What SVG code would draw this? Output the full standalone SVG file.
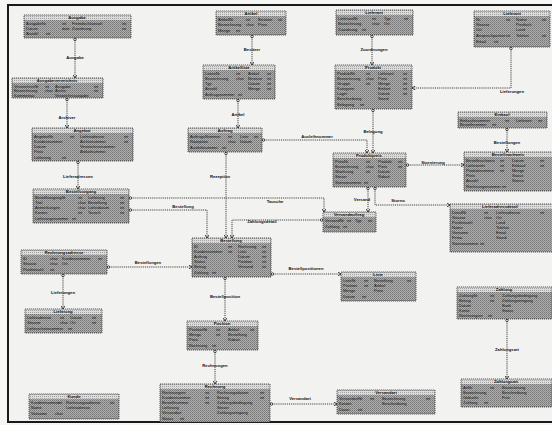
<svg xmlns="http://www.w3.org/2000/svg" width="552" height="425" viewBox="0 0 552 425">
<defs>
<pattern id="ht" width="2" height="2" patternUnits="userSpaceOnUse"><rect width="2" height="2" fill="#b0b0b0"/><rect width="1" height="1" fill="#747474"/><rect x="1" y="1" width="1" height="1" fill="#868686"/></pattern>
<pattern id="hl" width="2" height="2" patternUnits="userSpaceOnUse"><rect width="2" height="2" fill="#dcdcdc"/><rect width="1" height="1" fill="#a4a4a4"/></pattern>
<marker id="ah" markerWidth="4" markerHeight="4" refX="3.5" refY="2" orient="auto" markerUnits="userSpaceOnUse"><path d="M0,0 L4,2 L0,4" fill="none" stroke="#222" stroke-width="0.8"/></marker>
<marker id="ci" markerWidth="4" markerHeight="4" refX="0.5" refY="2" orient="auto" markerUnits="userSpaceOnUse"><circle cx="2" cy="2" r="1.3" fill="none" stroke="#222" stroke-width="0.7"/></marker>
</defs>
<style>
.bx{fill:url(#ht);stroke:#333;stroke-width:0.8;stroke-dasharray:1.2 0.8}
.tb{fill:url(#hl)}
.tt{font-family:"Liberation Sans",Arial,sans-serif;font-size:4.2px;font-weight:bold;fill:#111;text-anchor:middle}
.r{font-family:"Liberation Sans",Arial,sans-serif;font-size:4px;fill:#111}
.c{fill:none;stroke:#222;stroke-width:0.9;stroke-dasharray:1 0.9;marker-end:url(#ah);marker-start:url(#ci)}
.lb{font-family:"Liberation Sans",Arial,sans-serif;font-size:4.2px;font-weight:bold;fill:#111;text-anchor:middle}
</style>
<rect width="552" height="425" fill="#f6f6f4"/>
<rect x="8" y="5" width="560" height="417" fill="#f2f2f0" stroke="#1a1a1a" stroke-width="2"/>

<g id="connectors">
<path class="c" d="M75,38 V78"/><text class="lb" x="75" y="59">Ausgabe</text>
<path class="c" d="M67,98 V128"/><text class="lb" x="67" y="119">Archiver</text>
<path class="c" d="M78,161 V189"/><text class="lb" x="78" y="178">Lieferadressen</text>
<path class="c" d="M129,198 H324 V212"/><text class="lb" x="275" y="203">Tausche</text>
<path class="c" d="M129,210 H207 V238"/><text class="lb" x="183" y="208">Bestellung</text>
<path class="c" d="M107,267 H192"/><text class="lb" x="148" y="264">Bestellungen</text>
<path class="c" d="M63,274 V309"/><text class="lb" x="63" y="294">Lieferungen</text>
<path class="c" d="M252,35 V65"/><text class="lb" x="252" y="51">Besitzer</text>
<path class="c" d="M238,99 V128"/><text class="lb" x="238" y="116">Artikel</text>
<path class="c" d="M226,152 V238"/><text class="lb" x="220" y="178">Rezeption</text>
<path class="c" d="M262,140 H367 V153"/><text class="lb" x="317" y="138">Ausleihnummer</text>
<path class="c" d="M372,35 V65"/><text class="lb" x="374" y="51">Zuordnungen</text>
<path class="c" d="M511,47 V88 H412"/><text class="lb" x="512" y="93">Lieferungen</text>
<path class="c" d="M373,109 V153"/><text class="lb" x="373" y="133">Belegung</text>
<path class="c" d="M507,128 V152"/><text class="lb" x="507" y="144">Bestellungen</text>
<path class="c" d="M406,165 H464"/><text class="lb" x="433" y="164">Stornierung</text>
<path class="c" d="M368,187 V212"/><text class="lb" x="362" y="201">Versand</text>
<path class="c" d="M375,187 V205 H450"/><text class="lb" x="398" y="202">Storno</text>
<path class="c" d="M323,220 H232 V238"/><text class="lb" x="262" y="223">Zahlungsdetail</text>
<path class="c" d="M271,274 H341"/><text class="lb" x="306" y="270">Bestellpositionen</text>
<path class="c" d="M225,277 V321"/><text class="lb" x="225" y="298">Bestellposition</text>
<path class="c" d="M215,350 V384"/><text class="lb" x="215" y="367">Rechnungen</text>
<path class="c" d="M270,404 H337"/><text class="lb" x="300" y="400">Versandart</text>
<path class="c" d="M507,319 V379"/><text class="lb" x="507" y="351">Zahlungsart</text>
</g>

<g id="ausgabe">
<rect class="bx" x="24" y="15" width="107" height="23"/><rect class="tb" x="24.5" y="15.5" width="106" height="4.5"/>
<text class="tt" x="77" y="19.2">Ausgabe</text>
<text class="r" x="26" y="25">AusgabeNr</text><text class="r" x="62" y="25">int</text><text class="r" x="72" y="25">Fremdschluessel</text><text class="r" x="122" y="25">int</text>
<text class="r" x="26" y="30">Datum</text><text class="r" x="62" y="30">date</text><text class="r" x="72" y="30">Zuordnung</text><text class="r" x="122" y="30">int</text>
<text class="r" x="26" y="35">Anzahl</text><text class="r" x="46" y="35">int</text>
</g>
<g id="ausgabeverzeichnis">
<rect class="bx" x="12" y="78" width="91" height="20"/><rect class="tb" x="12.5" y="78.5" width="90" height="4.5"/>
<text class="tt" x="57" y="82.2">Ausgabeverzeichnis</text>
<text class="r" x="14" y="87.5">VerzeichnisNr</text><text class="r" x="45" y="87.5">int</text><text class="r" x="55" y="87.5">Ausgabe</text><text class="r" x="94" y="87.5">int</text>
<text class="r" x="14" y="92">Bezeichnung</text><text class="r" x="45" y="92">char</text><text class="r" x="55" y="92">Archiv</text><text class="r" x="94" y="92">int</text>
<text class="r" x="14" y="96.5">Kommentar</text><text class="r" x="55" y="96.5">Verzeichnisangabe</text>
</g>
<g id="angebot">
<rect class="bx" x="32" y="128" width="101" height="33"/><rect class="tb" x="32.5" y="128.5" width="100" height="4.5"/>
<text class="tt" x="82" y="132.2">Angebot</text>
<text class="r" x="34" y="138">AngebotNr</text><text class="r" x="70" y="138">int</text><text class="r" x="80" y="138">Lieferadresse</text><text class="r" x="124" y="138">int</text>
<text class="r" x="34" y="143">Kundennummer</text><text class="r" x="80" y="143">Archivnummer</text><text class="r" x="124" y="143">int</text>
<text class="r" x="34" y="148">Datum</text><text class="r" x="80" y="148">Verzeichnisnummer</text>
<text class="r" x="34" y="153">Preis</text><text class="r" x="80" y="153">Artikelnummer</text>
<text class="r" x="34" y="159">Lieferung</text><text class="r" x="62" y="159">int</text>
</g>
<g id="bestellvorgang">
<rect class="bx" x="33" y="189" width="96" height="34"/><rect class="tb" x="33.5" y="189.5" width="95" height="4.5"/>
<text class="tt" x="81" y="193.2">Bestellvorgang</text>
<text class="r" x="35" y="199">BestellvorgangNr</text><text class="r" x="78" y="199">int</text><text class="r" x="88" y="199">Lieferung</text><text class="r" x="120" y="199">int</text>
<text class="r" x="35" y="204">Titel</text><text class="r" x="78" y="204">char</text><text class="r" x="88" y="204">Bestellung</text><text class="r" x="120" y="204">int</text>
<text class="r" x="35" y="209">Anmerkungen</text><text class="r" x="78" y="209">char</text><text class="r" x="88" y="209">Lieferdatum</text><text class="r" x="120" y="209">int</text>
<text class="r" x="35" y="214">Kosten</text><text class="r" x="78" y="214">int</text><text class="r" x="88" y="214">Tausch</text><text class="r" x="120" y="214">int</text>
<text class="r" x="35" y="220">Lieferungsnummer</text><text class="r" x="72" y="220">int</text>
</g>
<g id="rechnungsadresse">
<rect class="bx" x="21" y="250" width="86" height="24"/><rect class="tb" x="21.5" y="250.5" width="85" height="4.5"/>
<text class="tt" x="64" y="254.2">Rechnungsadresse</text>
<text class="r" x="23" y="260">ID</text><text class="r" x="50" y="260">char</text><text class="r" x="62" y="260">Kundennummer</text><text class="r" x="98" y="260">int</text>
<text class="r" x="23" y="265">Strasse</text><text class="r" x="50" y="265">char</text><text class="r" x="62" y="265">Ort</text>
<text class="r" x="23" y="271">Postleitzahl</text><text class="r" x="50" y="271">int</text>
</g>
<g id="lieferung">
<rect class="bx" x="25" y="309" width="77" height="24"/><rect class="tb" x="25.5" y="309.5" width="76" height="4.5"/>
<text class="tt" x="63" y="313.2">Lieferung</text>
<text class="r" x="27" y="319">Lieferadresse</text><text class="r" x="60" y="319">int</text><text class="r" x="70" y="319">Datum</text><text class="r" x="92" y="319">int</text>
<text class="r" x="27" y="324">Strasse</text><text class="r" x="60" y="324">char</text><text class="r" x="70" y="324">Ort</text><text class="r" x="92" y="324">int</text>
<text class="r" x="27" y="330">Lieferscheinnummer</text><text class="r" x="68" y="330">int</text>
</g>
<g id="kunde">
<rect class="bx" x="29" y="394" width="90" height="25"/><rect class="tb" x="29.5" y="394.5" width="89" height="4.5"/>
<text class="tt" x="74" y="398.2">Kunde</text>
<text class="r" x="31" y="404">Kundennummer</text><text class="r" x="58" y="404">int</text><text class="r" x="66" y="404">Rechnungsadresse</text><text class="r" x="110" y="404">int</text>
<text class="r" x="31" y="409">Name</text><text class="r" x="66" y="409">Lieferadresse</text>
<text class="r" x="31" y="415">Vorname</text><text class="r" x="55" y="415">char</text>
</g>
<g id="artikel">
<rect class="bx" x="216" y="11" width="70" height="24"/><rect class="tb" x="216.5" y="11.5" width="69" height="4.5"/>
<text class="tt" x="251" y="15.2">Artikel</text>
<text class="r" x="218" y="21">ArtikelNr</text><text class="r" x="246" y="21">int</text><text class="r" x="258" y="21">Besitzer</text><text class="r" x="278" y="21">int</text>
<text class="r" x="218" y="26">Bezeichnung</text><text class="r" x="246" y="26">char</text><text class="r" x="258" y="26">Preis</text>
<text class="r" x="218" y="32">Menge</text><text class="r" x="236" y="32">int</text>
</g>
<g id="artikelliste">
<rect class="bx" x="203" y="65" width="72" height="34"/><rect class="tb" x="203.5" y="65.5" width="71" height="4.5"/>
<text class="tt" x="239" y="69.2">Artikelliste</text>
<text class="r" x="205" y="75">ListenNr</text><text class="r" x="236" y="75">int</text><text class="r" x="248" y="75">Artikel</text><text class="r" x="267" y="75">int</text>
<text class="r" x="205" y="80">Bezeichnung</text><text class="r" x="236" y="80">char</text><text class="r" x="248" y="80">Besitzer</text><text class="r" x="267" y="80">int</text>
<text class="r" x="205" y="85">Typ</text><text class="r" x="248" y="85">Datum</text><text class="r" x="267" y="85">int</text>
<text class="r" x="205" y="90">Anzahl</text><text class="r" x="248" y="90">Menge</text><text class="r" x="267" y="90">int</text>
<text class="r" x="205" y="96">Auftragsnummer</text><text class="r" x="238" y="96">int</text>
</g>
<g id="auftrag">
<rect class="bx" x="188" y="128" width="74" height="24"/><rect class="tb" x="188.5" y="128.5" width="73" height="4.5"/>
<text class="tt" x="225" y="132.2">Auftrag</text>
<text class="r" x="190" y="138">AuftragsNummer</text><text class="r" x="228" y="138">int</text><text class="r" x="240" y="138">Liste</text><text class="r" x="254" y="138">int</text>
<text class="r" x="190" y="143">Rezeption</text><text class="r" x="228" y="143">char</text><text class="r" x="240" y="143">Datum</text>
<text class="r" x="190" y="149">Ausleihnummer</text><text class="r" x="222" y="149">int</text>
</g>
<g id="lieferant">
<rect class="bx" x="336" y="10" width="77" height="25"/><rect class="tb" x="336.5" y="10.5" width="76" height="4.5"/>
<text class="tt" x="374" y="14.2">Lieferant</text>
<text class="r" x="338" y="20">LieferantNr</text><text class="r" x="372" y="20">int</text><text class="r" x="384" y="20">Typ</text><text class="r" x="404" y="20">int</text>
<text class="r" x="338" y="25">Bezeichnung</text><text class="r" x="372" y="25">char</text><text class="r" x="384" y="25">Ort</text>
<text class="r" x="338" y="31">Zuordnung</text><text class="r" x="362" y="31">int</text>
</g>
<g id="produkt">
<rect class="bx" x="335" y="65" width="77" height="44"/><rect class="tb" x="335.5" y="65.5" width="76" height="4.5"/>
<text class="tt" x="373" y="69.2">Produkt</text>
<text class="r" x="337" y="75">ProduktNr</text><text class="r" x="366" y="75">int</text><text class="r" x="378" y="75">Lieferant</text><text class="r" x="403" y="75">int</text>
<text class="r" x="337" y="80">Bezeichnung</text><text class="r" x="366" y="80">char</text><text class="r" x="378" y="80">Preis</text><text class="r" x="403" y="80">int</text>
<text class="r" x="337" y="85">Gruppe</text><text class="r" x="366" y="85">int</text><text class="r" x="378" y="85">Menge</text><text class="r" x="403" y="85">int</text>
<text class="r" x="337" y="90">Kategorie</text><text class="r" x="378" y="90">Einheit</text><text class="r" x="403" y="90">int</text>
<text class="r" x="337" y="95">Lager</text><text class="r" x="378" y="95">Datum</text><text class="r" x="403" y="95">int</text>
<text class="r" x="337" y="100">Beschreibung</text><text class="r" x="378" y="100">Stand</text>
<text class="r" x="337" y="106">Belegung</text><text class="r" x="360" y="106">int</text>
</g>
<g id="lieferant2">
<rect class="bx" x="474" y="11" width="76" height="36"/><rect class="tb" x="474.5" y="11.5" width="75" height="4.5"/>
<text class="tt" x="512" y="15.2">Lieferant</text>
<text class="r" x="476" y="21">Nr</text><text class="r" x="506" y="21">int</text><text class="r" x="516" y="21">Name</text><text class="r" x="542" y="21">int</text>
<text class="r" x="476" y="26">Strasse</text><text class="r" x="516" y="26">Postfach</text>
<text class="r" x="476" y="31">Ort</text><text class="r" x="516" y="31">Land</text>
<text class="r" x="476" y="37">Ansprechpartner</text><text class="r" x="506" y="37">int</text><text class="r" x="516" y="37">Telefon</text><text class="r" x="542" y="37">int</text>
<text class="r" x="476" y="43">Email</text><text class="r" x="494" y="43">int</text>
</g>
<g id="einkauf">
<rect class="bx" x="458" y="112" width="89" height="16"/><rect class="tb" x="458.5" y="112.5" width="88" height="4.5"/>
<text class="tt" x="502" y="116.2">Einkauf</text>
<text class="r" x="460" y="121.5">Einkaufsnummer</text><text class="r" x="505" y="121.5">int</text><text class="r" x="516" y="121.5">Lieferant</text><text class="r" x="538" y="121.5">int</text>
<text class="r" x="460" y="126">Bestellnummer</text><text class="r" x="492" y="126">int</text>
</g>
<g id="bestellnachweis">
<rect class="bx" x="464" y="152" width="90" height="39"/><rect class="tb" x="464.5" y="152.5" width="89" height="4.5"/>
<text class="tt" x="508" y="156.2">Bestellnachweis</text>
<text class="r" x="466" y="162">Bestellnachweis</text><text class="r" x="500" y="162">int</text><text class="r" x="512" y="162">Datum</text><text class="r" x="540" y="162">int</text>
<text class="r" x="466" y="167">Lieferantnr</text><text class="r" x="500" y="167">int</text><text class="r" x="512" y="167">Einkauf</text><text class="r" x="540" y="167">int</text>
<text class="r" x="466" y="172">Produktnummer</text><text class="r" x="500" y="172">int</text><text class="r" x="512" y="172">Menge</text>
<text class="r" x="466" y="177">Preis</text><text class="r" x="512" y="177">Status</text>
<text class="r" x="466" y="182">Anzahl</text><text class="r" x="512" y="182">Storno</text>
<text class="r" x="466" y="188">Rechnungsnummer</text><text class="r" x="502" y="188">int</text>
</g>
<g id="produktpreis">
<rect class="bx" x="333" y="153" width="73" height="34"/><rect class="tb" x="333.5" y="153.5" width="72" height="4.5"/>
<text class="tt" x="369" y="157.2">Produktpreis</text>
<text class="r" x="335" y="163">PreisNr</text><text class="r" x="366" y="163">int</text><text class="r" x="378" y="163">Produkt</text><text class="r" x="398" y="163">int</text>
<text class="r" x="335" y="168">Bezeichnung</text><text class="r" x="366" y="168">char</text><text class="r" x="378" y="168">Preis</text><text class="r" x="398" y="168">int</text>
<text class="r" x="335" y="173">Waehrung</text><text class="r" x="366" y="173">int</text><text class="r" x="378" y="173">Datum</text>
<text class="r" x="335" y="178">Steuer</text><text class="r" x="378" y="178">Rabatt</text>
<text class="r" x="335" y="184">Stornonummer</text><text class="r" x="364" y="184">int</text>
</g>
<g id="versandauftrag">
<rect class="bx" x="323" y="212" width="53" height="20"/><rect class="tb" x="323.5" y="212.5" width="52" height="4.5"/>
<text class="tt" x="349" y="216.2">Versandauftrag</text>
<text class="r" x="325" y="222">VersandNr</text><text class="r" x="347" y="222">int</text><text class="r" x="355" y="222">Typ</text><text class="r" x="368" y="222">int</text>
<text class="r" x="325" y="228">Zahlung</text><text class="r" x="343" y="228">int</text>
</g>
<g id="lieferadressdetail">
<rect class="bx" x="450" y="204" width="104" height="48"/><rect class="tb" x="450.5" y="204.5" width="103" height="4.5"/>
<text class="tt" x="500" y="208.2">Lieferadressdetail</text>
<text class="r" x="452" y="214">DetailNr</text><text class="r" x="484" y="214">int</text><text class="r" x="496" y="214">Lieferadresse</text><text class="r" x="540" y="214">int</text>
<text class="r" x="452" y="219">Strasse</text><text class="r" x="484" y="219">char</text><text class="r" x="496" y="219">Ort</text>
<text class="r" x="452" y="224">Postleitzahl</text><text class="r" x="496" y="224">Land</text>
<text class="r" x="452" y="229">Name</text><text class="r" x="496" y="229">Telefon</text>
<text class="r" x="452" y="234">Vorname</text><text class="r" x="496" y="234">Email</text>
<text class="r" x="452" y="239">Firma</text><text class="r" x="496" y="239">Stand</text>
<text class="r" x="452" y="245">Stornonummer</text><text class="r" x="480" y="245">int</text>
</g>
<g id="bestellung">
<rect class="bx" x="192" y="238" width="79" height="39"/><rect class="tb" x="192.5" y="238.5" width="78" height="4.5"/>
<text class="tt" x="231" y="242.2">Bestellung</text>
<text class="r" x="194" y="248">ID</text><text class="r" x="228" y="248">int</text><text class="r" x="238" y="248">Rechnung</text><text class="r" x="262" y="248">int</text>
<text class="r" x="194" y="253">Kundennummer</text><text class="r" x="228" y="253">int</text><text class="r" x="238" y="253">Liste</text><text class="r" x="262" y="253">int</text>
<text class="r" x="194" y="258">Auftrag</text><text class="r" x="238" y="258">Datum</text><text class="r" x="262" y="258">int</text>
<text class="r" x="194" y="263">Status</text><text class="r" x="238" y="263">Position</text><text class="r" x="262" y="263">int</text>
<text class="r" x="194" y="268">Betrag</text><text class="r" x="238" y="268">Versand</text><text class="r" x="262" y="268">int</text>
<text class="r" x="194" y="274">Zahlung</text><text class="r" x="212" y="274">int</text>
</g>
<g id="liste">
<rect class="bx" x="341" y="272" width="75" height="29"/><rect class="tb" x="341.5" y="272.5" width="74" height="4.5"/>
<text class="tt" x="378" y="276.2">Liste</text>
<text class="r" x="343" y="282">ListeNr</text><text class="r" x="364" y="282">int</text><text class="r" x="374" y="282">Bestellung</text><text class="r" x="407" y="282">int</text>
<text class="r" x="343" y="287">Position</text><text class="r" x="364" y="287">int</text><text class="r" x="374" y="287">Artikel</text>
<text class="r" x="343" y="292">Menge</text><text class="r" x="374" y="292">Preis</text>
<text class="r" x="343" y="298">Datum</text><text class="r" x="362" y="298">int</text>
</g>
<g id="position">
<rect class="bx" x="187" y="321" width="71" height="29"/><rect class="tb" x="187.5" y="321.5" width="70" height="4.5"/>
<text class="tt" x="222" y="325.2">Position</text>
<text class="r" x="189" y="331">PositionNr</text><text class="r" x="216" y="331">int</text><text class="r" x="228" y="331">Artikel</text><text class="r" x="250" y="331">int</text>
<text class="r" x="189" y="336">Menge</text><text class="r" x="216" y="336">int</text><text class="r" x="228" y="336">Bestellung</text>
<text class="r" x="189" y="341">Preis</text><text class="r" x="228" y="341">Rabatt</text>
<text class="r" x="189" y="347">Rechnung</text><text class="r" x="212" y="347">int</text>
</g>
<g id="rechnung">
<rect class="bx" x="160" y="384" width="110" height="38"/><rect class="tb" x="160.5" y="384.5" width="109" height="4.5"/>
<text class="tt" x="215" y="388.2">Rechnung</text>
<text class="r" x="162" y="394">Rechnungsnr</text><text class="r" x="205" y="394">int</text><text class="r" x="217" y="394">Rechnungsdatum</text><text class="r" x="260" y="394">int</text>
<text class="r" x="162" y="399">Kundennummer</text><text class="r" x="205" y="399">int</text><text class="r" x="217" y="399">Betrag</text><text class="r" x="260" y="399">int</text>
<text class="r" x="162" y="404">Bestellnummer</text><text class="r" x="205" y="404">int</text><text class="r" x="217" y="404">Zahlungsbedingung</text>
<text class="r" x="162" y="409">Lieferung</text><text class="r" x="217" y="409">Steuer</text>
<text class="r" x="162" y="414">Versandart</text><text class="r" x="217" y="414">Zahlungseingang</text>
<text class="r" x="162" y="420">Status</text><text class="r" x="180" y="420">int</text>
</g>
<g id="status">
<rect class="bx" x="337" y="390" width="98" height="24"/><rect class="tb" x="337.5" y="390.5" width="97" height="4.5"/>
<text class="tt" x="386" y="394.2">Versandart</text>
<text class="r" x="339" y="400">VersandartNr</text><text class="r" x="370" y="400">int</text><text class="r" x="382" y="400">Bezeichnung</text><text class="r" x="426" y="400">int</text>
<text class="r" x="339" y="405">Kosten</text><text class="r" x="382" y="405">Beschreibung</text>
<text class="r" x="339" y="411">Dauer</text><text class="r" x="358" y="411">int</text>
</g>
<g id="zahlung">
<rect class="bx" x="457" y="287" width="95" height="32"/><rect class="tb" x="457.5" y="287.5" width="94" height="4.5"/>
<text class="tt" x="504" y="291.2">Zahlung</text>
<text class="r" x="459" y="297">ZahlungNr</text><text class="r" x="490" y="297">int</text><text class="r" x="502" y="297">Zahlungsbedingung</text>
<text class="r" x="459" y="302">Betrag</text><text class="r" x="490" y="302">int</text><text class="r" x="502" y="302">Zahlungseingang</text>
<text class="r" x="459" y="307">Datum</text><text class="r" x="502" y="307">Bank</text>
<text class="r" x="459" y="312">Konto</text><text class="r" x="502" y="312">Status</text>
<text class="r" x="459" y="317">Rechnungsnr</text><text class="r" x="488" y="317">int</text>
</g>
<g id="zahlungsart">
<rect class="bx" x="461" y="379" width="91" height="28"/><rect class="tb" x="461.5" y="379.5" width="90" height="4.5"/>
<text class="tt" x="506" y="383.2">Zahlungsart</text>
<text class="r" x="463" y="389">ArtNr</text><text class="r" x="490" y="389">int</text><text class="r" x="502" y="389">Bezeichnung</text>
<text class="r" x="463" y="394">Bezeichnung</text><text class="r" x="502" y="394">Beschreibung</text>
<text class="r" x="463" y="399">Gebuehr</text><text class="r" x="502" y="399">Frist</text>
<text class="r" x="463" y="404">Zahlung</text><text class="r" x="484" y="404">int</text>
</g>
</svg>
